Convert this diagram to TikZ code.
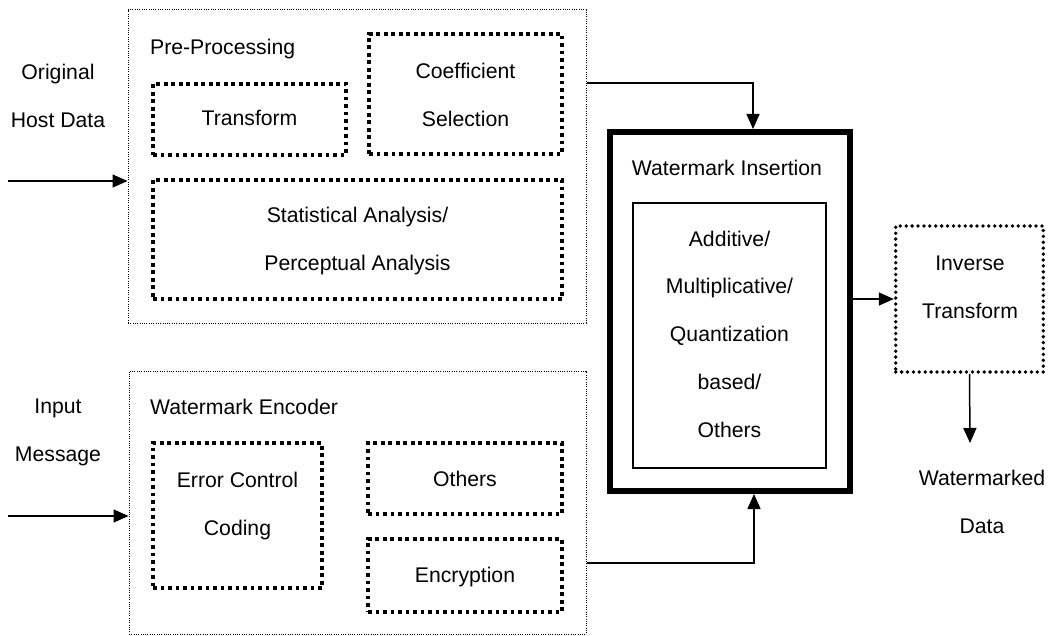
\documentclass[tikz,border=0pt]{standalone}
\usepackage{fontspec}
\setmainfont{Liberation Sans}
\usetikzlibrary{arrows.meta}
\begin{document}
\begin{tikzpicture}[x=1pt,y=-1pt,
  txt/.style={font=\fontsize{21.2}{47.7}\selectfont, align=center, inner sep=0pt, text depth=0pt},
  outerbox/.style={draw, line width=1pt, dash pattern=on 1pt off 1.3pt, inner sep=0pt},
  sqdot/.style={draw, line width=3.6pt, dash pattern=on 3.6pt off 3.9pt, inner sep=0pt},
  rounddot/.style={draw, line width=3.8pt, line cap=round, dash pattern=on 0pt off 5.9pt, inner sep=0pt},
  thickbox/.style={draw, line width=6pt, inner sep=0pt},
  thinbox/.style={draw, line width=1.5pt, inner sep=0pt},
  conn/.style={line width=1.5pt, -{Triangle[length=15pt,width=13pt]}}
]
\path[fill=white] (0,0) rectangle (1052,636);
\useasboundingbox (0,0) rectangle (1052,636);

% Pre-processing group
\node[outerbox, minimum width=458pt, minimum height=313pt] (pre) at (357,166.5) {};
\node[sqdot, minimum width=193pt, minimum height=71pt] (tf) at (249.5,119.5) {};
\node[sqdot, minimum width=193pt, minimum height=120pt] (coef) at (465.5,94) {};
\node[sqdot, minimum width=409pt, minimum height=119pt] (stat) at (357.5,239.5) {};

% Encoder group
\node[outerbox, minimum width=457pt, minimum height=263pt] (enc) at (357.5,502.5) {};
\node[sqdot, minimum width=169pt, minimum height=145pt] (ecc) at (237.5,515.5) {};
\node[sqdot, minimum width=194pt, minimum height=71pt] (oth) at (465,478.5) {};
\node[sqdot, minimum width=194pt, minimum height=73pt] (encr) at (465,575.5) {};

% Insertion
\node[thickbox, minimum width=239.5pt, minimum height=359pt] (ins) at (729.75,311.5) {};
\node[thinbox, minimum width=193pt, minimum height=265pt] (insin) at (729.5,335.5) {};

% Inverse transform
\node[rounddot, minimum width=147.6pt, minimum height=146pt] (inv) at (969.5,299) {};

% Texts
\node[txt] (tOrig) at (58,96) {Original\\Host Data};
\node[txt] (tInput) at (58,430) {Input\\Message};
\node[txt, anchor=west] (tPre) at (150,47) {Pre-Processing};
\node[txt] (tTf) at (249.5,118) {Transform};
\node[txt] (tCoef) at (465.5,94.5) {Coefficient\\Selection};
\node[txt] (tStat) at (357.5,239) {Statistical Analysis/\\Perceptual Analysis};
\node[txt, anchor=west] (tEnc) at (150,407) {Watermark Encoder};
\node[txt] (tEcc) at (237.5,503.5) {Error Control\\Coding};
\node[txt] (tOth) at (465,479) {Others};
\node[txt] (tEncr) at (465,575) {Encryption};
\node[txt] (tIns) at (727,168) {Watermark Insertion};
\node[txt] (tMeth) at (729.5,334) {Additive/\\Multiplicative/\\Quantization\\based/\\Others};
\node[txt] (tInv) at (970,287.5) {Inverse\\Transform};
\node[txt] (tOut) at (982,502) {Watermarked\\Data};

% Connectors
\coordinate (inA) at (8,181);
\coordinate (inB) at (8,516);
\coordinate (k1) at (753,83);
\coordinate (k2) at (754,563);
\coordinate (outC) at (970,443);
\draw[conn] (inA) -- (inA -| pre.west);
\draw[conn] (inB) -- (inB -| enc.west);
\draw[conn] (k1 -| pre.east) -- (k1) -- (k1 |- ins.north);
\draw[conn] (k2 -| enc.east) -- (k2) -- (k2 |- ins.south);
\draw[conn] (ins.east |- inv.west) -- (inv.west);
\draw[conn] (inv.south) -- (outC);
\end{tikzpicture}
\end{document}
